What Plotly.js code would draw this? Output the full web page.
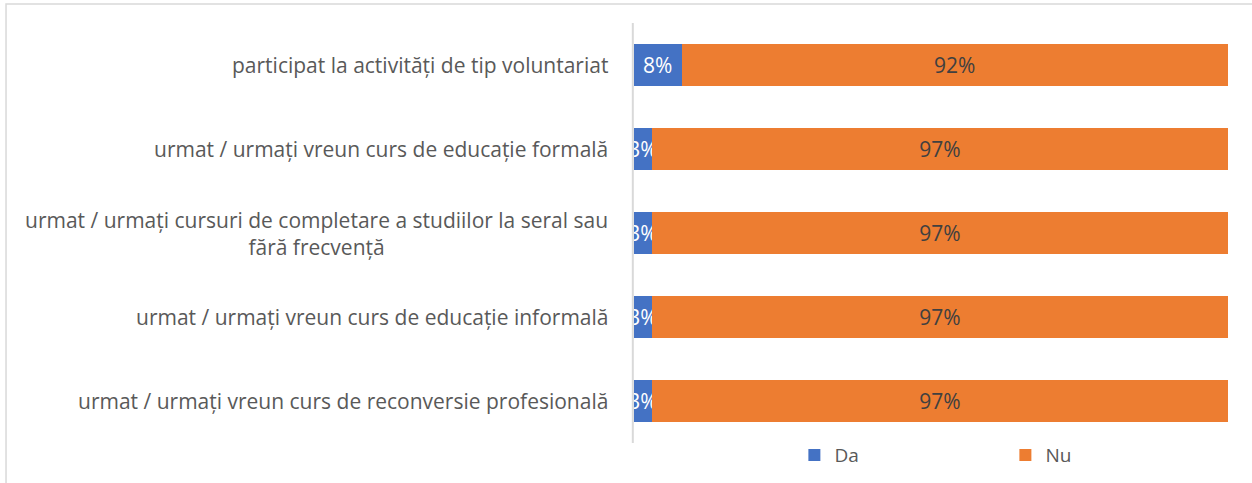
<!DOCTYPE html>
<html>
<head>
<meta charset="utf-8">
<script src="https://cdn.plot.ly/plotly-3.0.1.min.js"></script>
<style>
  html, body { margin: 0; padding: 0; background: #ffffff; }
  #chart { width: 1252px; height: 483px; }
</style>
</head>
<body>
<div id="chart"></div>
<script>
// Categories, top to bottom
const categories = [
  'participat la activități de tip voluntariat',
  'urmat / urmați vreun curs de educație formală',
  'urmat / urmați cursuri de completare a studiilor la seral sau<br>fără frecvență',
  'urmat / urmați vreun curs de educație informală',
  'urmat / urmați vreun curs de reconversie profesională'
];

// Share of respondents (%)
const daValues = [8, 3, 3, 3, 3];
const nuValues = [92, 97, 97, 97, 97];

const seriesNames = ['Da', 'Nu'];

const FONT = '"Open Sans", "Noto Sans", sans-serif';

const daTrace = {
  type: 'bar',
  orientation: 'h',
  name: seriesNames[0],
  y: categories,
  x: daValues,
  marker: { color: '#4472C4', line: { width: 0 } },
  texttemplate: '%{x}%',
  textposition: 'inside',
  insidetextanchor: 'middle',
  constraintext: 'none',
  textangle: 0,
  insidetextfont: { family: FONT, size: 21, color: '#FFFFFF' },
  hoverinfo: 'skip'
};

const nuTrace = {
  type: 'bar',
  orientation: 'h',
  name: seriesNames[1],
  y: categories,
  x: nuValues,
  marker: { color: '#ED7D31', line: { width: 0 } },
  texttemplate: '%{x}%',
  textposition: 'inside',
  insidetextanchor: 'middle',
  constraintext: 'none',
  textangle: 0,
  insidetextfont: { family: FONT, size: 21, color: '#404040' },
  hoverinfo: 'skip'
};

// Category labels as annotations so the wrapped label stays centred
const labelAnnotations = categories.map(c => ({
  xref: 'paper',
  yref: 'y',
  x: -0.04,
  y: c,
  xanchor: 'right',
  yanchor: 'middle',
  align: 'center',
  text: c,
  showarrow: false,
  font: { family: FONT, size: 21, color: '#595959' }
}));

const layout = {
  width: 1252,
  height: 483,
  barmode: 'stack',
  bargap: 0.5,
  margin: { l: 634, r: 24, t: 23, b: 40, autoexpand: false },
  paper_bgcolor: '#FFFFFF',
  plot_bgcolor: '#FFFFFF',
  font: { family: FONT, color: '#595959' },
  xaxis: {
    range: [0, 100],
    showgrid: false,
    zeroline: false,
    showticklabels: false,
    showline: false,
    fixedrange: true
  },
  yaxis: {
    type: 'category',
    autorange: 'reversed',
    showgrid: false,
    zeroline: false,
    showticklabels: false,
    showline: false,
    fixedrange: true
  },
  shapes: [
    // axis line
    {
      type: 'line', xref: 'paper', yref: 'paper',
      x0: -0.002, x1: -0.002, y0: 0, y1: 1,
      line: { color: '#D9D9D9', width: 2 }
    },
    // chart frame
    {
      type: 'rect', xref: 'paper', yref: 'paper',
      x0: -1.0572, x1: 1.2, y0: -0.3, y1: 1.0452,
      line: { color: '#D9D9D9', width: 1.5 },
      fillcolor: 'rgba(0,0,0,0)'
    }
  ],
  annotations: labelAnnotations,
  showlegend: true,
  legend: {
    orientation: 'h',
    x: 0.27,
    xanchor: 'left',
    y: -0.029,
    yanchor: 'middle',
    entrywidth: 166,
    entrywidthmode: 'pixels',
    itemwidth: 30,
    bgcolor: 'rgba(0,0,0,0)',
    font: { family: FONT, size: 19, color: '#595959' },
    traceorder: 'normal'
  }
};

Plotly.newPlot('chart', [daTrace, nuTrace], layout, { displayModeBar: false, staticPlot: true });
</script>
</body>
</html>
